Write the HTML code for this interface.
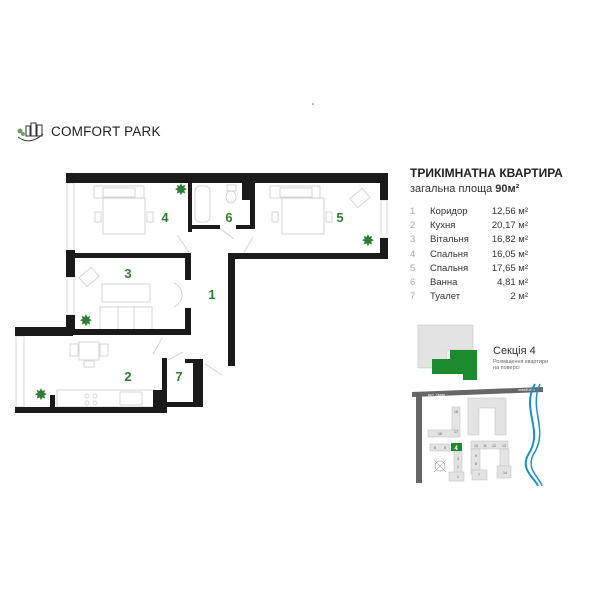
<!DOCTYPE html>
<html><head><meta charset="utf-8"><style>
html,body{margin:0;padding:0;background:#fff;}
svg{display:block;font-family:"Liberation Sans",sans-serif;}
</style></head><body>
<svg width="600" height="600" viewBox="0 0 600 600" xmlns="http://www.w3.org/2000/svg">
<rect width="600" height="600" fill="#fff"/>
<circle cx="313" cy="104" r="0.8" fill="#555"/>
<!-- logo -->
<g stroke="#333" fill="none" stroke-width="1">
<rect x="26" y="126" width="4" height="10"/><rect x="31" y="123" width="5" height="13"/><rect x="37" y="125" width="5" height="11"/>
<path d="M18 137 Q30 146 43 134"/>
</g>
<circle cx="20" cy="131" r="2.5" fill="#7a9a6a"/><circle cx="23" cy="134" r="2" fill="#7a9a6a"/>
<text x="51" y="136" font-size="13.5" fill="#222" letter-spacing="0.2">COMFORT PARK</text>

<!-- furniture light gray -->
<g stroke="#ccc" fill="none" stroke-width="0.8">
<rect x="94" y="186" width="50" height="12"/><rect x="103" y="188" width="32" height="9"/>
<rect x="103" y="198" width="42" height="36"/><rect x="95" y="212" width="6" height="10"/><rect x="147" y="212" width="6" height="10"/>
<rect x="270" y="186" width="50" height="12"/><rect x="280" y="188" width="32" height="9"/>
<rect x="282" y="198" width="42" height="36"/><rect x="272" y="212" width="6" height="10"/><rect x="326" y="212" width="6" height="10"/>
<rect x="352" y="192" width="16" height="12" transform="rotate(-40 360 198)"/>
<rect x="195" y="186" width="15" height="36" rx="5"/>
<rect x="227" y="185" width="9" height="6"/><ellipse cx="231" cy="197" rx="5" ry="6"/>
<rect x="81" y="271" width="16" height="12" transform="rotate(-40 89 277)"/>
<rect x="102" y="284" width="48" height="18"/><rect x="100" y="307" width="52" height="24"/>
<line x1="118" y1="307" x2="118" y2="331"/><line x1="134" y1="307" x2="134" y2="331"/>
<rect x="79" y="342" width="20" height="18"/><rect x="70" y="344" width="8" height="12"/><rect x="100" y="344" width="8" height="12"/><rect x="84" y="361" width="10" height="6"/>
<rect x="57" y="390" width="97" height="17"/><circle cx="87" cy="396" r="2"/><circle cx="95" cy="396" r="2"/><circle cx="87" cy="403" r="2"/><circle cx="95" cy="403" r="2"/>
<rect x="120" y="392" width="22" height="13"/>
<line x1="177" y1="235" x2="189" y2="252"/><line x1="218" y1="227" x2="234" y2="239"/><line x1="253" y1="237" x2="244" y2="252"/>
<path d="M174 283 q8 4 8 12 M174 307 q8 -4 8 -12"/>
<line x1="162" y1="338" x2="153" y2="354"/><line x1="183" y1="352" x2="168" y2="360"/><line x1="205" y1="364" x2="222" y2="375"/>
<rect x="67" y="183" width="7" height="70"/><rect x="67" y="277" width="7" height="38"/><rect x="16" y="336" width="8" height="71"/><rect x="381" y="200" width="6" height="38"/>
</g>
<!-- walls -->
<g fill="#1a1a1a">
<rect x="66" y="173" width="322" height="10"/>
<rect x="380" y="173" width="8" height="27"/><rect x="380" y="238" width="8" height="21"/>
<rect x="228" y="253" width="160" height="6"/>
<rect x="228" y="253" width="7" height="113"/>
<rect x="66" y="250" width="9" height="27"/>
<rect x="75" y="253" width="116" height="5"/>
<rect x="66" y="315" width="9" height="20"/>
<rect x="15" y="327" width="58" height="9"/>
<rect x="73" y="329" width="118" height="6"/>
<rect x="185" y="253" width="6" height="27"/><rect x="185" y="308" width="6" height="27"/>
<rect x="15" y="407" width="152" height="6"/><rect x="50" y="395" width="5" height="14"/>
<rect x="162" y="358" width="5" height="55"/><rect x="153" y="390" width="14" height="23"/>
<rect x="162" y="402" width="41" height="5"/><rect x="193" y="360" width="10" height="47"/><rect x="185" y="359" width="18" height="4"/>
<rect x="188" y="183" width="4" height="49"/><rect x="188" y="225" width="32" height="4"/><rect x="236" y="225" width="19" height="4"/>
<rect x="250" y="183" width="5" height="46"/><rect x="242" y="183" width="13" height="17"/>
</g>
<!-- plants -->
<g fill="#2e7d32" font-size="16" text-anchor="middle">
<text x="181" y="195">✸</text><text x="368" y="246">✸</text><text x="86" y="326">✸</text><text x="41" y="400">✸</text>
</g>
<g fill="#2e7d32" font-size="13" font-weight="bold" text-anchor="middle">
<text x="165" y="222">4</text><text x="229" y="222">6</text><text x="340" y="222">5</text>
<text x="128" y="278">3</text><text x="212" y="299">1</text><text x="128" y="381">2</text><text x="179" y="381">7</text>
</g>
<!-- info -->
<text x="410" y="177" font-size="12" font-weight="bold" fill="#222">ТРИКІМНАТНА КВАРТИРА</text>
<text x="410" y="192" font-size="11" fill="#333">загальна площа <tspan font-weight="bold">90м²</tspan></text>
<g font-size="9.5" fill="#333">
<g fill="#aaa"><text x="410" y="214">1</text><text x="410" y="228">2</text><text x="410" y="242">3</text><text x="410" y="257">4</text><text x="410" y="271">5</text><text x="410" y="285">6</text><text x="410" y="299">7</text></g>
<text x="430" y="214">Коридор</text><text x="430" y="228">Кухня</text><text x="430" y="242">Вітальня</text><text x="430" y="257">Спальня</text><text x="430" y="271">Спальня</text><text x="430" y="285">Ванна</text><text x="430" y="299">Туалет</text>
<g text-anchor="end"><text x="528" y="214">12,56 м²</text><text x="528" y="228">20,17 м²</text><text x="528" y="242">16,82 м²</text><text x="528" y="257">16,05 м²</text><text x="528" y="271">17,65 м²</text><text x="528" y="285">4,81 м²</text><text x="528" y="299">2 м²</text></g>
</g>
<!-- section -->
<path d="M418 325 H473 V350 H447 V363 H433 V368 H418 Z" fill="#e3e3e3" stroke="#bbb" stroke-width="0.5"/>
<path d="M455 350 H477 V380 H463 V374 H432 V359 H450 V350 Z" fill="#1e8a2e"/>
<text x="493" y="354" font-size="11" fill="#333">Секція 4</text>
<text x="493" y="363" font-size="5.5" fill="#666">Розміщення квартири</text>
<text x="493" y="369" font-size="5.5" fill="#666">на поверсі</text>
<!-- map -->
<path d="M412 392 L543 387 L543 392 L412 397 Z" fill="#666"/>
<text x="428" y="396" font-size="3.5" fill="#fff">вул. Хімків</text>
<text x="518" y="391" font-size="3.5" fill="#fff">новий міст</text>
<rect x="416" y="395" width="6" height="88" fill="#666"/>
<g fill="#e3e3e3" stroke="#bbb" stroke-width="0.5">
<path d="M468 398 H506 V435 H495 V408 H479 V435 H468 Z"/>
<rect x="452" y="407" width="8" height="30"/><rect x="428" y="430" width="30" height="7"/>
<rect x="430" y="444" width="20" height="7"/>
<rect x="454" y="451" width="8" height="30"/><rect x="449" y="472" width="15" height="9"/>
<rect x="471" y="441" width="37" height="8"/><rect x="471" y="449" width="9" height="25"/><rect x="472" y="470" width="15" height="10"/>
<rect x="500" y="449" width="9" height="25"/><rect x="497" y="466" width="14" height="12"/>
</g>
<g font-size="3.5" fill="#555" text-anchor="middle">
<text x="456" y="413">18</text><text x="456" y="433">17</text><text x="440" y="435">16</text><text x="435" y="449">6</text><text x="445" y="449">5</text>
<text x="458" y="460">3</text><text x="458" y="468">2</text><text x="458" y="478">1</text>
<text x="476" y="447">10</text><text x="485" y="447">11</text><text x="494" y="447">12</text><text x="504" y="447">13</text>
<text x="476" y="457">9</text><text x="476" y="465">8</text><text x="479" y="476">7</text><text x="505" y="474">14</text>
</g>
<rect x="451" y="443" width="11" height="8" fill="#1e8a2e"/>
<text x="456" y="450" font-size="6" fill="#fff" text-anchor="middle" font-weight="bold">4</text>
<path d="M535 384 C520 410 545 430 528 455 C520 470 535 478 538 486" stroke="#1a8fd0" stroke-width="2" fill="none"/>
<path d="M540 384 C528 410 550 430 533 455 C526 470 540 478 542 486" stroke="#1a8fd0" stroke-width="1.5" fill="none"/>
<circle cx="440" cy="466" r="5" fill="none" stroke="#999" stroke-width="0.6"/>
<line x1="434" y1="460" x2="446" y2="472" stroke="#999" stroke-width="0.5"/><line x1="446" y1="460" x2="434" y2="472" stroke="#999" stroke-width="0.5"/>
</svg>
</body></html>
